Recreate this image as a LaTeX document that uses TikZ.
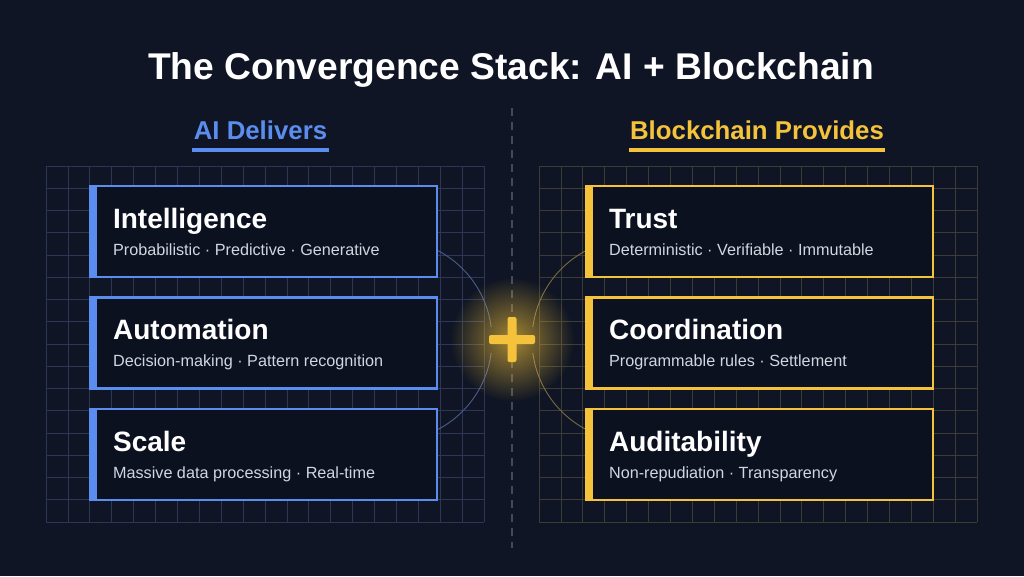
\documentclass[tikz,border=0pt]{standalone}
\usepackage{fontspec}
\setmainfont{Liberation Sans}
\usetikzlibrary{fadings}
\definecolor{bg}{HTML}{0F1524}
\definecolor{cardbg}{HTML}{0C1120}
\definecolor{aiblue}{HTML}{5B8DEF}
\definecolor{bcgold}{HTML}{F5C33B}
\definecolor{gridblue}{HTML}{2C3756}
\definecolor{gridgold}{HTML}{3C3B36}
\definecolor{subtext}{HTML}{D2D6DE}
\definecolor{dashgray}{HTML}{434A5A}
\definecolor{arcblue}{HTML}{4B5C8E}
\definecolor{arcgold}{HTML}{7A6A42}
\tikzfading[name=glowfade, inner color=transparent!35, outer color=transparent!100]
\tikzset{
  card/.style={draw, line width=2.2pt, fill=cardbg, minimum width=347pt, minimum height=91pt, inner sep=0pt},
  cardtitle/.style={text=white, font=\bfseries\fontsize{28}{30}\selectfont, inner sep=0pt, anchor=base west},
  cardsub/.style={text=subtext, font=\fontsize{16.2}{18}\selectfont, inner sep=0pt, anchor=base west},
  heading/.style={font=\bfseries\fontsize{25.8}{30}\selectfont, inner sep=0pt, anchor=base},
  gridline/.style={line width=0.8pt},
}
\begin{document}
\begin{tikzpicture}[x=1pt,y=-1pt]
\fill[bg] (0,0) rectangle (1024,576);
\useasboundingbox (0,0) rectangle (1024,576);
% title
\node[text=white, font=\bfseries\fontsize{37.2}{42}\selectfont, inner sep=0pt, anchor=base] (title) at (511,79) {The Convergence Stack: AI + Blockchain};
% divider
\coordinate (dtop) at (512,108);
\coordinate (dbot) at (512,548);
\draw[dashgray, line width=1.2pt, dash pattern=on 8pt off 6pt] (dtop) -- (dbot);
% headings
\node[heading, text=aiblue] (aihead) at (260.5,139) {AI Delivers};
\fill[aiblue] (192,148) rectangle (329,152);
\node[heading, text=bcgold] (bchead) at (757,139) {Blockchain Provides};
\fill[bcgold] (629,148) rectangle (885,152);
% grids
\foreach \i in {0,...,20} {
  \draw[gridblue, gridline] (46+\i*21.9,166) -- (46+\i*21.9,522);
  \draw[gridgold, gridline] (539+\i*21.9,166) -- (539+\i*21.9,522);
}
\foreach \j in {0,...,16} {
  \draw[gridblue, gridline] (46,166+\j*22.25) -- (484,166+\j*22.25);
  \draw[gridgold, gridline] (539,166+\j*22.25) -- (977,166+\j*22.25);
}
% arcs
\draw[arcblue, line width=0.9pt] (391,340) ++(-63:101) arc[start angle=-63, end angle=-7.4, radius=101];
\draw[arcblue, line width=0.9pt] (391,340) ++(7.4:101) arc[start angle=7.4, end angle=63, radius=101];
\draw[arcgold, line width=0.9pt] (633,340) ++(243:101) arc[start angle=243, end angle=187.4, radius=101];
\draw[arcgold, line width=0.9pt] (633,340) ++(172.6:101) arc[start angle=172.6, end angle=117, radius=101];
% cards left
\foreach \n/\y/\t/\s in {ai1/231.5/Intelligence/{Probabilistic · Predictive · Generative},
                         ai2/343/Automation/{Decision-making · Pattern recognition},
                         ai3/454.5/Scale/{Massive data processing · Real-time}} {
  \node[card, draw=aiblue] (\n) at (263.5,\y) {};
  \fill[aiblue] (\n.north west) rectangle ([xshift=8pt]\n.south west);
  \node[cardtitle] (\n t) at ([xshift=24pt,yshift=3.5pt]\n.west) {\t};
  \node[cardsub] (\n s) at ([xshift=24pt,yshift=-23.5pt]\n.west) {\s};
}
% cards right
\foreach \n/\y/\t/\s in {bc1/231.5/Trust/{Deterministic · Verifiable · Immutable},
                         bc2/343/Coordination/{Programmable rules · Settlement},
                         bc3/454.5/Auditability/{Non-repudiation · Transparency}} {
  \node[card, draw=bcgold] (\n) at (759.5,\y) {};
  \fill[bcgold] (\n.north west) rectangle ([xshift=8pt]\n.south west);
  \node[cardtitle] (\n t) at ([xshift=24pt,yshift=3.5pt]\n.west) {\t};
  \node[cardsub] (\n s) at ([xshift=24pt,yshift=-23.5pt]\n.west) {\s};
}
% plus with glow
\fill[bcgold, path fading=glowfade] (512,339.5) circle (62);
\node[fill=bcgold, rounded corners=2pt, minimum width=46pt, minimum height=9pt, inner sep=0pt] (plush) at (512,339.5) {};
\node[fill=bcgold, rounded corners=2pt, minimum width=9pt, minimum height=45pt, inner sep=0pt] (plusv) at (512,339.5) {};
\end{tikzpicture}
\end{document}
